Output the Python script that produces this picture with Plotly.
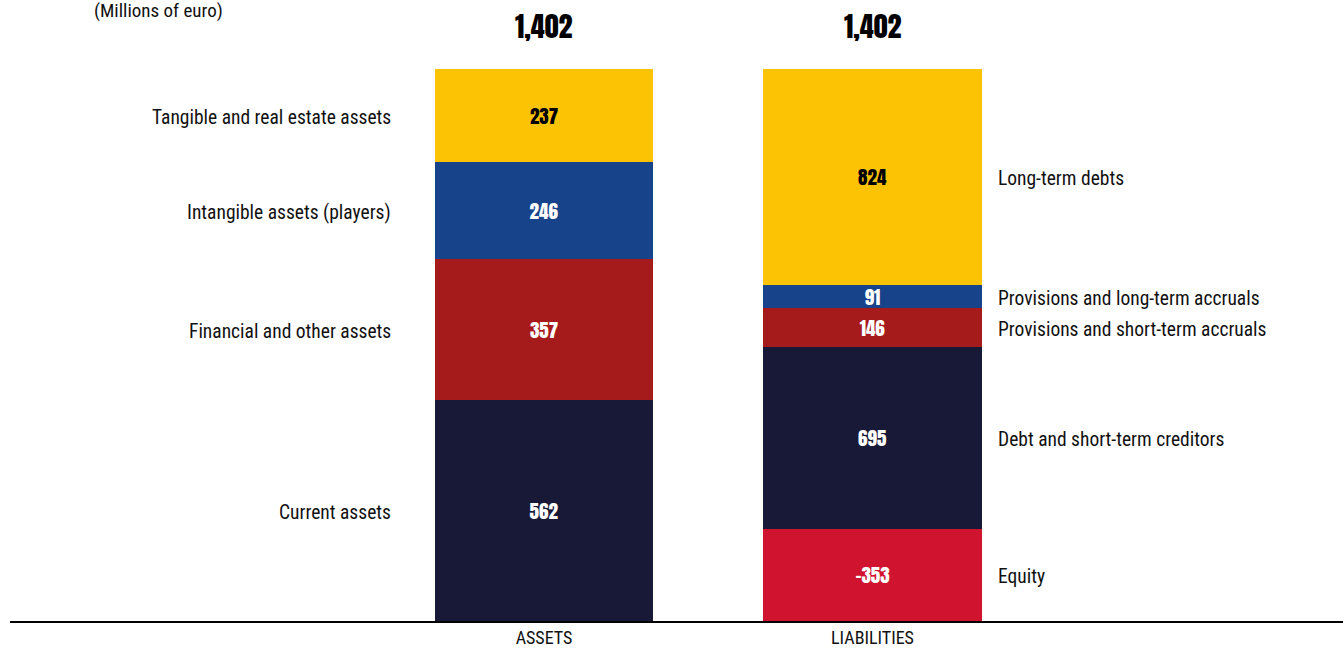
import plotly.graph_objects as go

# ---- data ----
columns = ["ASSETS", "LIABILITIES"]
asset_labels = ["Current assets", "Financial and other assets", "Intangible assets (players)", "Tangible and real estate assets"]
asset_values = [562, 357, 246, 237]
liab_labels = ["Equity", "Debt and short-term creditors", "Provisions and short-term accruals", "Provisions and long-term accruals", "Long-term debts"]
liab_values = [-353, 695, 146, 91, 824]
totals = [1402, 1402]
unit_note = "(Millions of euro)"

asset_colors = ["#181936", "#A51A1A", "#16438A", "#FCC204"]
liab_colors = ["#D0142F", "#181936", "#A51A1A", "#16438A", "#FCC204"]

LABEL_FONT = "Roboto Condensed, Liberation Sans Narrow, DejaVu Sans Condensed, sans-serif"
VALUE_FONT = "Anton, Oswald, Liberation Sans Narrow, DejaVu Sans Condensed, sans-serif"

# liabilities are drawn with absolute values scaled so the column reaches the total
liab_scale = totals[1] / sum(abs(v) for v in liab_values)
liab_heights = [abs(v) * liab_scale for v in liab_values]

BAR_W = 0.664
fig = go.Figure()

def add_column(xpos, labels, values, heights, colors, side):
    base = 0
    for lab, val, h, col in zip(labels, values, heights, colors):
        txtcol = "#000000" if col == "#FCC204" else "#FFFFFF"
        fig.add_trace(go.Bar(
            x=[xpos], y=[h], width=BAR_W, marker=dict(color=col, line=dict(width=0)),
            text=[f"{val:,}"], textposition="inside", insidetextanchor="middle",
            textangle=0, constraintext="none",
            textfont=dict(family=VALUE_FONT, size=19, color=txtcol),
            hoverinfo="skip", showlegend=False,
        ))
        mid = base + h / 2
        if side == "left":
            fig.add_annotation(x=xpos - BAR_W / 2, y=mid, xref="x", yref="y", text=lab,
                               showarrow=False, xanchor="right", xshift=-42, yshift=-2,
                               font=dict(family=LABEL_FONT, size=19.5, color="#111111"))
        else:
            fig.add_annotation(x=xpos + BAR_W / 2, y=mid, xref="x", yref="y", text=lab,
                               showarrow=False, xanchor="left", xshift=14, yshift=-2,
                               font=dict(family=LABEL_FONT, size=19.5, color="#111111"))
        base += h

add_column(0, asset_labels, asset_values, asset_values, asset_colors, "left")
add_column(1, liab_labels, liab_values, liab_heights, liab_colors, "right")

for i, t in enumerate(totals):
    fig.add_annotation(x=i, y=t, xref="x", yref="y", text=f"{t:,}", showarrow=False,
                       yanchor="bottom", yshift=20,
                       font=dict(family=VALUE_FONT, size=28, color="#000000"))

fig.add_annotation(x=(92 - 10) / 1333, y=1, xref="paper", yref="paper", text=unit_note,
                   showarrow=False, xanchor="left", yanchor="top", yshift=3,
                   font=dict(family=LABEL_FONT, size=19, color="#111111"))

px_per_unit = 328.5
fig.update_layout(
    width=1343, height=654,
    margin=dict(l=10, r=0, t=0, b=33),
    barmode="stack", bargap=0,
    plot_bgcolor="white", paper_bgcolor="white",
    xaxis=dict(range=[-534 / px_per_unit, -534 / px_per_unit + 1333 / px_per_unit],
               tickvals=[0, 1], ticktext=columns, showgrid=False, zeroline=False,
               showline=True, linecolor="#000000", linewidth=1.5, layer="below traces",
               ticks="", tickfont=dict(family=LABEL_FONT, size=18, color="#111111")),
    yaxis=dict(range=[0, 1402 * 621 / 552], visible=False, showgrid=False, zeroline=False),
)
fig.update_xaxes(fixedrange=True)
fig.write_html("out.html", config={"displayModeBar": False},
               post_script="document.body.style.margin='0';document.body.style.overflow='hidden';")
